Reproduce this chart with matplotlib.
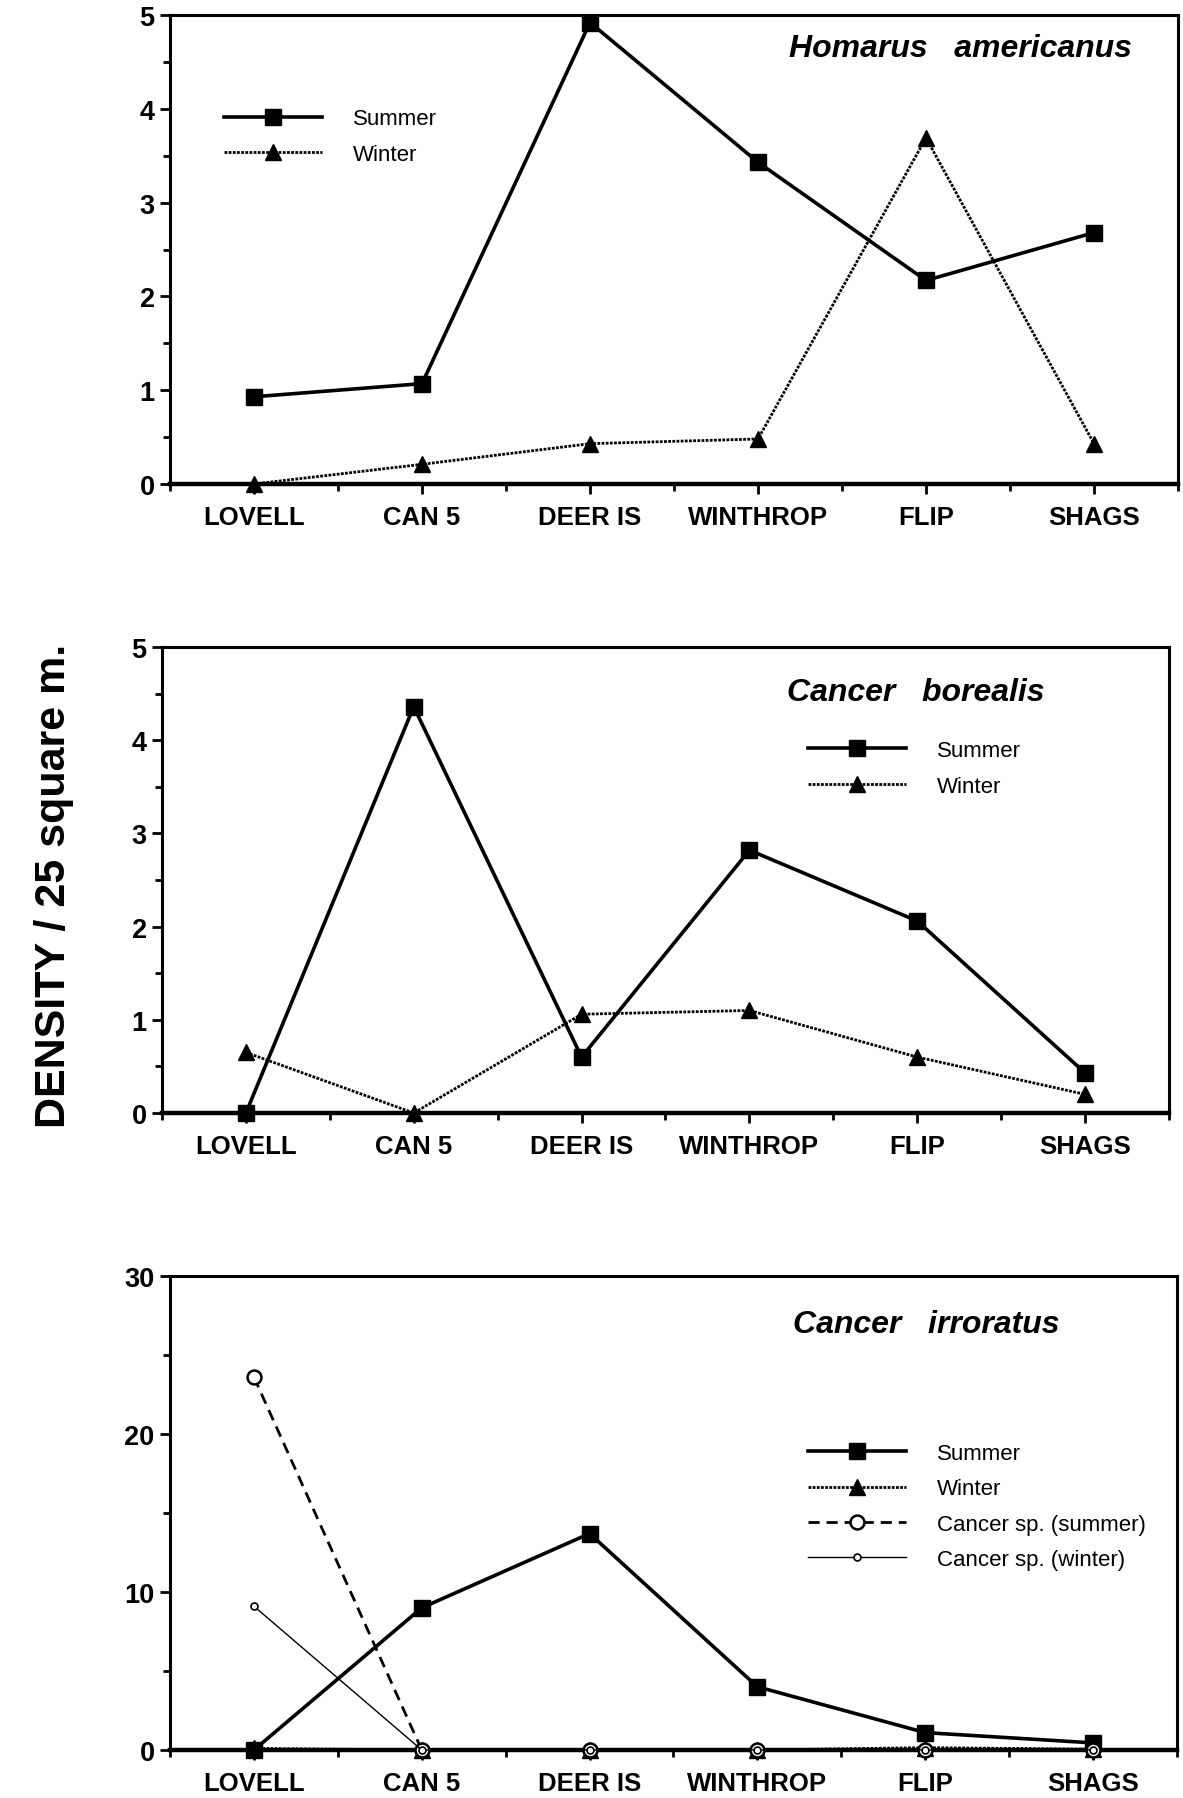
import matplotlib
matplotlib.use("Agg")
import matplotlib.pyplot as plt
from matplotlib.ticker import MultipleLocator, FixedLocator

plt.rcParams['font.family'] = ['Liberation Sans', 'DejaVu Sans']

sites = ['LOVELL', 'CAN 5', 'DEER IS', 'WINTHROP', 'FLIP', 'SHAGS']

# Homarus americanus
homarus_summer = [0.93, 1.07, 4.92, 3.43, 2.17, 2.68]
homarus_winter = [0.0, 0.21, 0.43, 0.48, 3.69, 0.43]

# Cancer borealis
borealis_summer = [0.0, 4.36, 0.60, 2.82, 2.06, 0.43]
borealis_winter = [0.65, 0.0, 1.06, 1.10, 0.60, 0.20]

# Cancer irroratus
irroratus_summer = [0.0, 9.0, 13.7, 4.0, 1.1, 0.45]
irroratus_winter = [0.1, 0.0, 0.0, 0.0, 0.15, 0.05]
cancer_sp_summer = [23.6, 0.0, 0.0, 0.0, 0.0, 0.0]
cancer_sp_winter = [9.1, 0.0, 0.0, 0.0, 0.0, 0.0]

W, H = 1183, 1799
fig = plt.figure(figsize=(W / 100, H / 100), dpi=100)


def make_axes(left, right, top, bottom):
    return fig.add_axes([left / W, 1 - bottom / H, (right - left) / W, (bottom - top) / H])


ax1 = make_axes(170, 1178, 16, 485)
ax2 = make_axes(162, 1169, 648, 1114)
ax3 = make_axes(170, 1177, 1277, 1751)

x = list(range(len(sites)))

summer_style = dict(color='black', lw=2.6, marker='s', ms=11, clip_on=False, zorder=4)
winter_style = dict(color='black', lw=2.0, ls=(0, (1, 0.5)), marker='^', ms=12, clip_on=False, zorder=3)
legend_kw = dict(loc='upper left', frameon=False, fontsize=16, handlelength=4.4, handletextpad=1.4,
                 labelspacing=0.65, borderpad=0, borderaxespad=0, numpoints=1)


def style_axes(ax, ymax, major, minor):
    ax.set_xlim(-0.5, 5.5)
    ax.set_ylim(0, ymax)
    ax.xaxis.set_major_locator(FixedLocator(x))
    ax.xaxis.set_minor_locator(FixedLocator([i - 0.5 for i in range(len(sites) + 1)]))
    ax.set_xticklabels(sites, fontsize=18.5, fontweight='bold')
    ax.yaxis.set_major_locator(MultipleLocator(major))
    ax.yaxis.set_minor_locator(MultipleLocator(minor))
    for lab in ax.get_yticklabels():
        lab.set_fontsize(19.5)
        lab.set_fontweight('bold')
    ax.tick_params(axis='both', which='major', direction='out', length=7, width=2, pad=4)
    ax.tick_params(axis='both', which='minor', direction='out', length=5, width=2)
    ax.tick_params(axis='x', which='major', pad=8)
    for s in ax.spines.values():
        s.set_linewidth(2.2)
    ax.spines['bottom'].set_linewidth(3.2)


# Panel 1
ax1.plot(x, homarus_summer, label='Summer', **summer_style)
ax1.plot(x, homarus_winter, label='Winter', **winter_style)
style_axes(ax1, 5, 1, 0.5)
ax1.text(0.954, 0.93, 'Homarus   americanus', transform=ax1.transAxes, ha='right', va='center',
         fontsize=23, fontweight='bold', style='italic')
ax1.legend(bbox_to_anchor=(0.0536, 0.801), **legend_kw)

# Panel 2
ax2.plot(x, borealis_summer, label='Summer', **summer_style)
ax2.plot(x, borealis_winter, label='Winter', **winter_style)
style_axes(ax2, 5, 1, 0.5)
ax2.text(0.876, 0.903, 'Cancer   borealis', transform=ax2.transAxes, ha='right', va='center',
         fontsize=23, fontweight='bold', style='italic')
ax2.legend(bbox_to_anchor=(0.6415, 0.80), **legend_kw)

# Panel 3
ax3.plot(x, irroratus_summer, label='Summer', **summer_style)
ax3.plot(x, irroratus_winter, label='Winter', **winter_style)
ax3.plot(x, cancer_sp_summer, label='Cancer sp. (summer)', color='black', lw=2.0, ls=(0, (4, 2.5)),
         marker='o', ms=10, mfc='white', mew=1.8, clip_on=False, zorder=5)
ax3.plot(x, cancer_sp_winter, label='Cancer sp. (winter)', color='black', lw=1.0,
         marker='o', ms=5, mfc='white', mew=1.2, clip_on=False, zorder=5)
style_axes(ax3, 30, 10, 5)
ax3.text(0.883, 0.899, 'Cancer   irroratus', transform=ax3.transAxes, ha='right', va='center',
         fontsize=23, fontweight='bold', style='italic')
ax3.legend(bbox_to_anchor=(0.6336, 0.648), **legend_kw)

fig.text(0.046, 0.5075, 'DENSITY / 25 square m.', rotation=90, ha='center', va='center',
         fontsize=31, fontweight='bold')

fig.savefig('out.png', dpi=100)
